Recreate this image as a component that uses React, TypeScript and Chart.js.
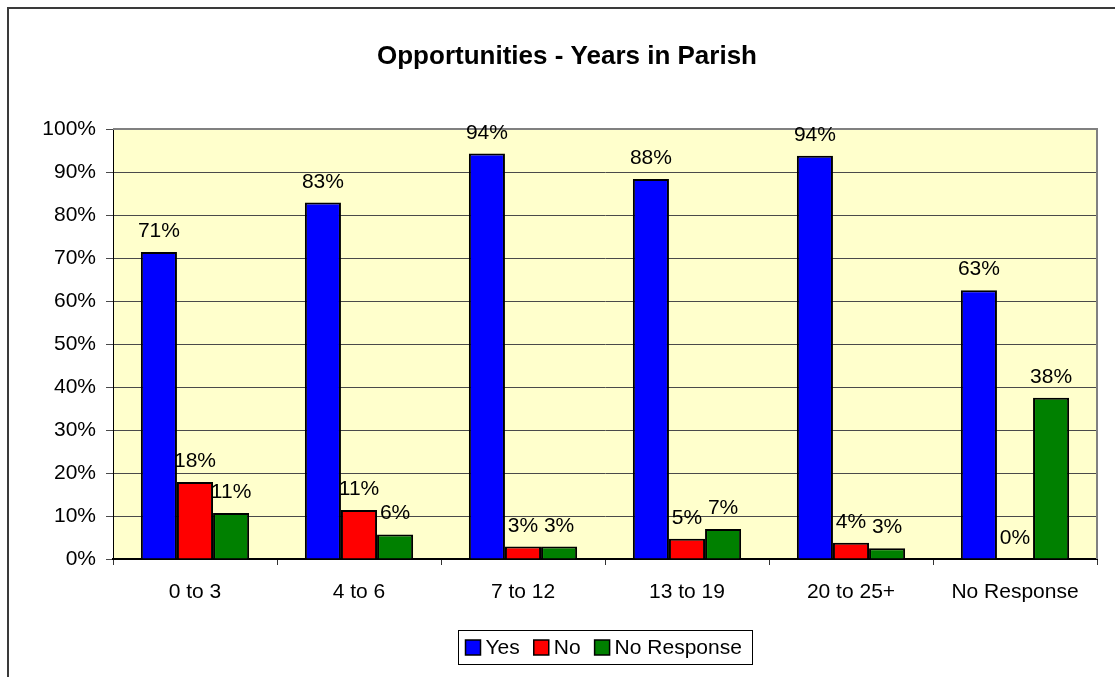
import React, { useEffect, useRef } from "react";
import { Chart, registerables } from "chart.js";

Chart.register(...registerables);

const chartTitle = "Opportunities - Years in Parish";
const categories = ["0 to 3", "4 to 6", "7 to 12", "13 to 19", "20 to 25+", "No Response"];
const seriesNames = ["Yes", "No", "No Response"];
const seriesColors = ["#0000FF", "#FF0000", "#008000"];
const yesValues = [71.4, 82.9, 94.3, 88.4, 93.8, 62.5];
const noValues = [17.9, 11.4, 2.9, 4.7, 3.8, 0];
const noResponseValues = [10.7, 5.7, 2.9, 7.0, 2.5, 37.5];
const yTickValues = [0, 10, 20, 30, 40, 50, 60, 70, 80, 90, 100];

const FONT = "'Liberation Sans', Arial, sans-serif";
const FONT_SIZE = 21;

const backgroundPlugin = {
  id: "bgPlugin",
  beforeDraw(chart: any) {
    const { ctx, chartArea, width, height } = chart;
    ctx.save();
    ctx.fillStyle = "#FFFFFF";
    ctx.fillRect(0, 0, width, height);
    ctx.strokeStyle = "#3a3a3a";
    ctx.lineWidth = 2;
    ctx.beginPath();
    ctx.moveTo(8, height);
    ctx.lineTo(8, 8);
    ctx.lineTo(width, 8);
    ctx.stroke();
    ctx.fillStyle = "#FFFFCC";
    ctx.fillRect(chartArea.left, chartArea.top, chartArea.right - chartArea.left, chartArea.bottom - chartArea.top);
    ctx.restore();
  },
};

const plotBorderPlugin = {
  id: "plotBorder",
  beforeDatasetsDraw(chart: any) {
    const { ctx, chartArea } = chart;
    ctx.save();
    ctx.strokeStyle = "#808080";
    ctx.lineWidth = 2;
    ctx.beginPath();
    ctx.moveTo(chartArea.left, chartArea.top);
    ctx.lineTo(chartArea.right, chartArea.top);
    ctx.lineTo(chartArea.right, chartArea.bottom);
    ctx.stroke();
    ctx.restore();
  },
};

const dataLabelPlugin = {
  id: "dataLabels",
  afterDatasetsDraw(chart: any) {
    const { ctx } = chart;
    ctx.save();
    ctx.font = `${FONT_SIZE}px ${FONT}`;
    ctx.fillStyle = "#000000";
    ctx.textAlign = "center";
    ctx.textBaseline = "alphabetic";
    chart.data.datasets.forEach((ds: any, i: number) => {
      const meta = chart.getDatasetMeta(i);
      meta.data.forEach((el: any, j: number) => {
        const v = ds.data[j];
        ctx.fillText(`${Math.round(v)}%`, el.x, el.y - 15);
      });
    });
    ctx.restore();
  },
};

const titleLegendPlugin = {
  id: "titleLegend",
  afterDraw(chart: any) {
    const { ctx, chartArea } = chart;
    ctx.save();
    ctx.font = `bold 26px ${FONT}`;
    ctx.fillStyle = "#000000";
    ctx.textAlign = "center";
    ctx.textBaseline = "middle";
    ctx.fillText(chartTitle, 567, 57);

    ctx.font = `${FONT_SIZE}px ${FONT}`;
    const padL = 7, sq = 15, gapText = 5, itemGap = 14, padR = 11;
    const widths = chart.data.datasets.map((d: any) => ctx.measureText(d.label).width);
    let total = padL + padR;
    widths.forEach((w: number, i: number) => {
      total += sq + gapText + w + (i < widths.length - 1 ? itemGap : 0);
    });
    const cx = (chartArea.left + chartArea.right) / 2;
    const bx = Math.round(cx - total / 2) + 0.5;
    const by = 630.5;
    const bh = 34;
    ctx.strokeStyle = "#000000";
    ctx.lineWidth = 1;
    ctx.strokeRect(bx, by, Math.round(total), bh);
    let x = bx + padL;
    const cy = by + bh / 2;
    ctx.textAlign = "left";
    ctx.textBaseline = "middle";
    chart.data.datasets.forEach((d: any, i: number) => {
      ctx.fillStyle = d.backgroundColor;
      ctx.fillRect(x, cy - sq / 2, sq, sq);
      ctx.strokeStyle = "#000000";
      ctx.lineWidth = 1.5;
      ctx.strokeRect(x, cy - sq / 2, sq, sq);
      ctx.fillStyle = "#000000";
      ctx.fillText(d.label, x + sq + gapText, cy + 1);
      x += sq + gapText + widths[i] + itemGap;
    });
    ctx.restore();
  },
};

export default function App() {
  const ref = useRef<HTMLCanvasElement | null>(null);

  useEffect(() => {
    if (!ref.current) return;
    const values = [yesValues, noValues, noResponseValues];
    const chart = new Chart(ref.current, {
      type: "bar",
      data: {
        labels: categories,
        datasets: seriesNames.map((name, i) => ({
          label: name,
          data: values[i],
          backgroundColor: seriesColors[i],
          borderColor: "#000000",
          borderWidth: 2,
          categoryPercentage: 0.66,
          barPercentage: 1,
        })),
      },
      options: {
        responsive: false,
        animation: false,
        events: [],
        layout: { padding: { top: 129, right: 18, bottom: 58, left: 0 } },
        plugins: {
          legend: { display: false },
          title: { display: false },
          tooltip: { enabled: false },
        },
        scales: {
          x: {
            grid: {
              display: true,
              drawOnChartArea: false,
              drawTicks: true,
              tickLength: 6,
              color: "#333333",
              lineWidth: 1,
              offset: true,
            },
            border: { display: true, color: "#000000", width: 2 },
            ticks: {
              color: "#000000",
              font: { family: FONT, size: FONT_SIZE },
              padding: 15,
              maxRotation: 0,
              autoSkip: false,
            },
            afterFit(scale: any) {
              scale.height = 60;
            },
          },
          y: {
            min: 0,
            max: 100,
            afterBuildTicks(scale: any) {
              scale.ticks = yTickValues.map((v) => ({ value: v }));
            },
            grid: {
              color: "#4a4a4a",
              lineWidth: 1,
              drawTicks: true,
              tickLength: 7,
            },
            border: { display: true, color: "#000000", width: 1 },
            ticks: {
              color: "#000000",
              font: { family: FONT, size: FONT_SIZE },
              padding: 10,
              callback: (v: any) => `${v}%`,
            },
            afterFit(scale: any) {
              scale.width = 113;
            },
          },
        },
      },
      plugins: [backgroundPlugin, plotBorderPlugin, dataLabelPlugin, titleLegendPlugin],
    });
    return () => chart.destroy();
  }, []);

  return (
    <div style={{ position: "fixed", left: 0, top: 0, width: 1115, height: 677 }}>
      <canvas ref={ref} width={1115} height={677} style={{ display: "block" }} />
    </div>
  );
}
